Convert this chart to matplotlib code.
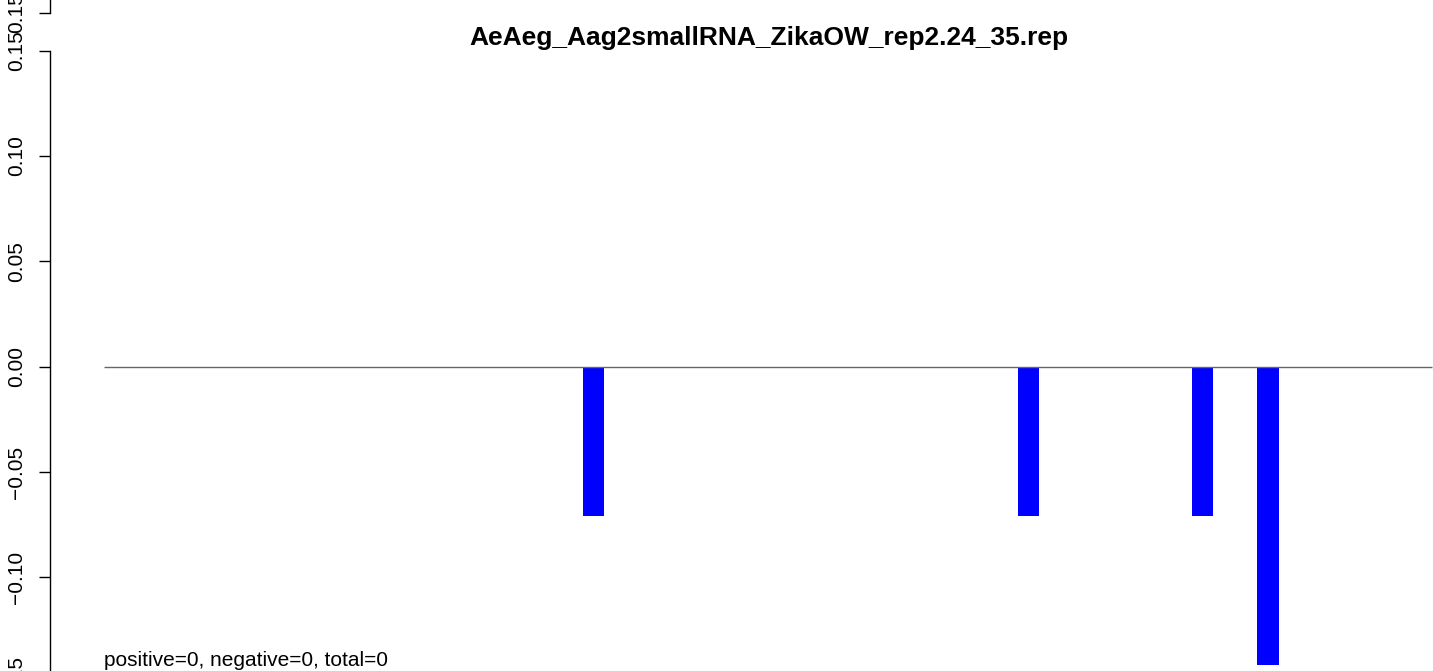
import matplotlib
matplotlib.use("Agg")
import matplotlib.pyplot as plt

# 数据
title = "AeAeg_Aag2smallRNA_ZikaOW_rep2.24_35.rep"
bar_left = [22, 42, 50, 53]
bar_value = [-0.0707, -0.0707, -0.0707, -0.1416]
y_ticks = [-0.15, -0.10, -0.05, 0.00, 0.05, 0.10, 0.15]
y_tick_labels = ["\u22120.15", "\u22120.10", "\u22120.05", "0.00", "0.05", "0.10", "0.15"]
extra_tick = 0.168
extra_label = "0.15"
note = "positive=0, negative=0, total=0"

plt.rcParams['font.family'] = ['Liberation Sans', 'DejaVu Sans']

# 坐标范围：下方超出画布一点，让 -0.15 刻度被截断
y_lo, y_hi = -0.16, 0.1741
px_per_unit = 2106
ax_h = (y_hi - y_lo) * px_per_unit / 671

fig = plt.figure(figsize=(14.33, 6.71), dpi=100)
ax = fig.add_axes([50 / 1433, 1 - ax_h, 1 - 50 / 1433, ax_h])

# 零线
ax.hlines(0, 0, 61.05, color='#666666', linewidth=1.0)

# 条形图
ax.bar(bar_left, bar_value, width=1, align='edge', color='#0000ff')

# 坐标轴
for s in ['top', 'right', 'bottom']:
    ax.spines[s].set_visible(False)
ax.spines['left'].set_bounds(-0.15, 0.15)
ax.spines['left'].set_linewidth(1.0)
ax.set_xticks([])
ax.set_yticks(y_ticks + [extra_tick])
ax.set_yticklabels(y_tick_labels + [extra_label], rotation=90, va='center', fontsize=15)
ax.tick_params(axis='y', length=8, width=1.0, pad=9)
ax.plot([-2.483, -2.483], [extra_tick, y_hi], color='black', linewidth=1.0, clip_on=False)

ax.set_xlim(-2.483, 61.1)
ax.set_ylim(y_lo, y_hi)

# 标题和注释
fig.text(769 / 1433, 1 - 38 / 671, title, ha='center', va='center', fontsize=19, fontweight='bold')
ax.text(0, -0.1421, note, ha='left', va='baseline', fontsize=15)

fig.savefig("out.png", dpi=100)
